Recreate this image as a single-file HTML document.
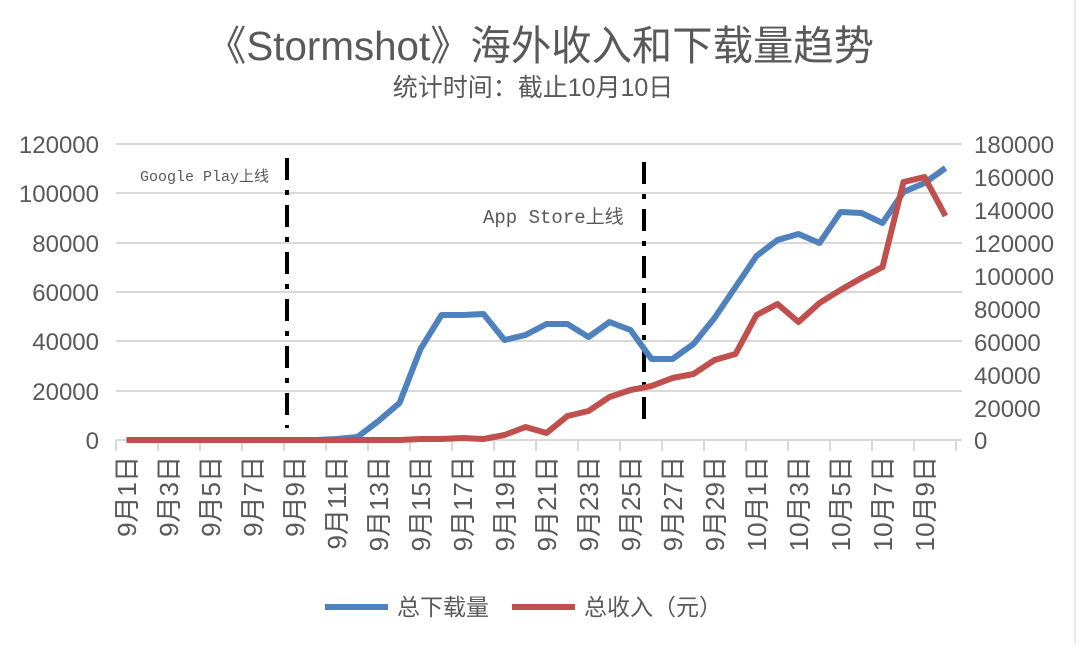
<!DOCTYPE html>
<html><head><meta charset="utf-8"><style>
html,body{margin:0;padding:0;background:#fff;}
svg text{font-family:"Liberation Sans","Noto Sans CJK SC",sans-serif;fill:#595959;}
</style></head><body>
<svg width="1080" height="644" viewBox="0 0 1080 644" xmlns="http://www.w3.org/2000/svg">
<rect width="1080" height="644" fill="#fff"/>
<line x1="1075" y1="0" x2="1075" y2="644" stroke="#d9d9d9" stroke-width="1"/>
<text x="540" y="60" font-size="41" text-anchor="middle" textLength="668" lengthAdjust="spacingAndGlyphs">《Stormshot》海外收入和下载量趋势</text>
<text x="533" y="96" font-size="25" text-anchor="middle">统计时间：截止10月10日</text>
<g stroke="#d9d9d9" stroke-width="2">
<line x1="116" y1="144" x2="962" y2="144"/><line x1="116" y1="193" x2="962" y2="193"/>
<line x1="116" y1="243" x2="962" y2="243"/><line x1="116" y1="292" x2="962" y2="292"/>
<line x1="116" y1="341" x2="962" y2="341"/><line x1="116" y1="391" x2="962" y2="391"/>
<line x1="116" y1="440" x2="962" y2="440"/>
</g>
<g stroke="#d9d9d9" stroke-width="2">
<line x1="116" y1="440" x2="116" y2="451"/><line x1="158" y1="440" x2="158" y2="451"/><line x1="200" y1="440" x2="200" y2="451"/><line x1="242" y1="440" x2="242" y2="451"/><line x1="284" y1="440" x2="284" y2="451"/><line x1="326" y1="440" x2="326" y2="451"/><line x1="368" y1="440" x2="368" y2="451"/><line x1="410" y1="440" x2="410" y2="451"/><line x1="452" y1="440" x2="452" y2="451"/><line x1="494" y1="440" x2="494" y2="451"/><line x1="536" y1="440" x2="536" y2="451"/><line x1="578" y1="440" x2="578" y2="451"/><line x1="620" y1="440" x2="620" y2="451"/><line x1="662" y1="440" x2="662" y2="451"/><line x1="704" y1="440" x2="704" y2="451"/><line x1="746" y1="440" x2="746" y2="451"/><line x1="788" y1="440" x2="788" y2="451"/><line x1="830" y1="440" x2="830" y2="451"/><line x1="872" y1="440" x2="872" y2="451"/><line x1="914" y1="440" x2="914" y2="451"/><line x1="956" y1="440" x2="956" y2="451"/>
</g>
<g font-size="24" text-anchor="end">
<text x="99" y="153">120000</text><text x="99" y="202">100000</text><text x="99" y="252">80000</text>
<text x="99" y="301">60000</text><text x="99" y="350">40000</text><text x="99" y="400">20000</text><text x="99" y="449">0</text>
</g>
<g font-size="24" text-anchor="start">
<text x="974" y="153">180000</text><text x="974" y="186">160000</text><text x="974" y="219">140000</text>
<text x="974" y="252">120000</text><text x="974" y="285">100000</text><text x="974" y="318">80000</text>
<text x="974" y="351">60000</text><text x="974" y="384">40000</text><text x="974" y="417">20000</text><text x="974" y="449">0</text>
</g>
<g font-size="26" text-anchor="end">
<text transform="translate(136,456) rotate(-90)">9月1日</text>
<text transform="translate(178,456) rotate(-90)">9月3日</text>
<text transform="translate(220,456) rotate(-90)">9月5日</text>
<text transform="translate(262,456) rotate(-90)">9月7日</text>
<text transform="translate(304,456) rotate(-90)">9月9日</text>
<text transform="translate(346,456) rotate(-90)">9月11日</text>
<text transform="translate(388,456) rotate(-90)">9月13日</text>
<text transform="translate(430,456) rotate(-90)">9月15日</text>
<text transform="translate(472,456) rotate(-90)">9月17日</text>
<text transform="translate(514,456) rotate(-90)">9月19日</text>
<text transform="translate(556,456) rotate(-90)">9月21日</text>
<text transform="translate(598,456) rotate(-90)">9月23日</text>
<text transform="translate(640,456) rotate(-90)">9月25日</text>
<text transform="translate(682,456) rotate(-90)">9月27日</text>
<text transform="translate(724,456) rotate(-90)">9月29日</text>
<text transform="translate(766,456) rotate(-90)">10月1日</text>
<text transform="translate(808,456) rotate(-90)">10月3日</text>
<text transform="translate(850,456) rotate(-90)">10月5日</text>
<text transform="translate(892,456) rotate(-90)">10月7日</text>
<text transform="translate(934,456) rotate(-90)">10月9日</text>
</g>
<g stroke="#000" stroke-width="4" stroke-dasharray="22,10,5,10" fill="none">
<line x1="287" y1="158" x2="287" y2="428"/>
<line x1="644" y1="162" x2="644" y2="428"/>
</g>
<text x="140" y="181" font-size="15" style="font-family:'Liberation Mono','Noto Sans CJK SC',monospace">Google Play上线</text>
<text x="483" y="223" font-size="19" style="font-family:'Liberation Mono','Noto Sans CJK SC',monospace">App Store上线</text>
<polyline fill="none" stroke="#4f81bd" stroke-width="6" stroke-linejoin="round" points="126.5,440 147.5,440 168.5,440 189.5,440 210.5,440 231.5,440 252.5,440 273.5,440 294.5,440 315.5,440 336.5,439 357.5,437 378.5,421 399.5,403 420.5,349 441.5,315 462.5,315 483.5,314 504.5,340 525.5,335 546.5,324 567.5,324 588.5,337 609.5,322 630.5,330 651.5,359 672.5,359 693.5,344 714.5,318 735.5,287 756.5,256 777.5,240 798.5,234 819.5,243 840.5,212 861.5,213 882.5,223 903.5,192 924.5,183 945.5,168"/>
<polyline fill="none" stroke="#c0504d" stroke-width="6" stroke-linejoin="round" points="126.5,440 147.5,440 168.5,440 189.5,440 210.5,440 231.5,440 252.5,440 273.5,440 294.5,440 315.5,440 336.5,440 357.5,440 378.5,440 399.5,440 420.5,439 441.5,439 462.5,438 483.5,439 504.5,435 525.5,427 546.5,433 567.5,416 588.5,411 609.5,397 630.5,390 651.5,386 672.5,378 693.5,374 714.5,360 735.5,354 756.5,315 777.5,304 798.5,322 819.5,303 840.5,290 861.5,278 882.5,267 903.5,182 924.5,177 945.5,216"/>
<line x1="325" y1="607" x2="388" y2="607" stroke="#4f81bd" stroke-width="6"/>
<text x="397" y="615" font-size="23">总下载量</text>
<line x1="512" y1="607" x2="575" y2="607" stroke="#c0504d" stroke-width="6"/>
<text x="584" y="615" font-size="23">总收入（元）</text>
</svg>
</body></html>
